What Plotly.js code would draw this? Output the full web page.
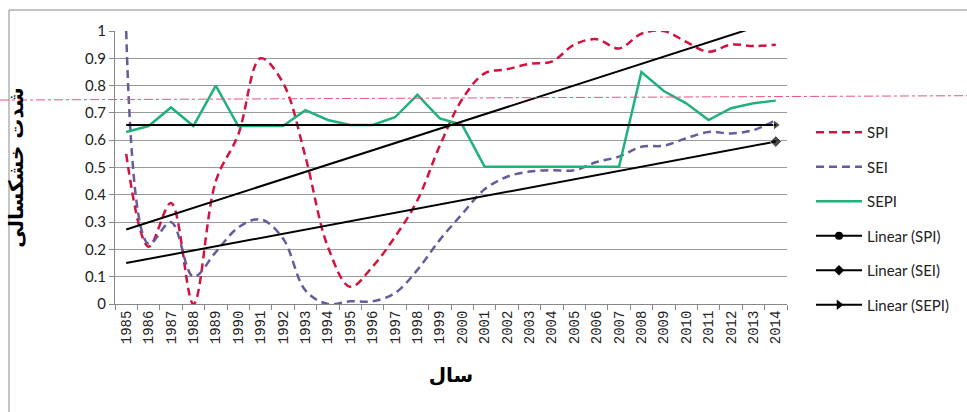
<!DOCTYPE html>
<html><head><meta charset="utf-8">
<script src="https://cdn.plot.ly/plotly-3.0.1.min.js"></script>
<style>html,body{margin:0;padding:0;background:#fff}#chart{width:967px;height:412px}</style>
</head><body><div id="chart"></div>
<script>
const years = ['1985','1986','1987','1988','1989','1990','1991','1992','1993','1994','1995','1996','1997','1998','1999','2000','2001','2002','2003','2004','2005','2006','2007','2008','2009','2010','2011','2012','2013','2014'];
const spi  = [0.55,0.21,0.37,0.0,0.45,0.62,0.90,0.81,0.54,0.21,0.063,0.137,0.246,0.38,0.58,0.75,0.845,0.86,0.88,0.888,0.95,0.97,0.936,0.99,1.0,0.96,0.924,0.95,0.945,0.95];
const sei  = [1.0,0.22,0.30,0.10,0.19,0.28,0.31,0.24,0.05,0.0,0.01,0.01,0.04,0.125,0.235,0.33,0.42,0.466,0.485,0.49,0.49,0.52,0.54,0.576,0.58,0.607,0.63,0.625,0.637,0.674];
const sepi = [0.63,0.652,0.72,0.652,0.80,0.652,0.652,0.652,0.71,0.674,0.656,0.656,0.684,0.766,0.68,0.656,0.503,0.503,0.503,0.503,0.503,0.503,0.503,0.85,0.78,0.735,0.674,0.717,0.735,0.745];
const trendYears = ['1985','2014'];
const spiTrend  = [0.273,1.038];
const seiTrend  = [0.15,0.595];
const sepiTrend = [0.656,0.656];
const refLevel  = [0.747,0.763];
const yTickVals = [0,0.1,0.2,0.3,0.4,0.5,0.6,0.7,0.8,0.9,1];
const yTickText = ['0','0.1','0.2','0.3','0.4','0.5','0.6','0.7','0.8','0.9','1'];
const seriesNames = ['SPI','SEI','SEPI','Linear (SPI)','Linear (SEI)','Linear (SEPI)'];

const RED = '#d3123f', PURPLE = '#6a5a9c', GREEN = '#1fb27a';
const FONT = 'Lato, "Open Sans", sans-serif';

const traces = [
  {x: years, y: spi, name: seriesNames[0], mode: 'lines', legendgroup: 'a',
   line: {color: RED, width: 2.5, dash: '8px,5px', shape: 'spline', smoothing: 1}},
  {x: years, y: sei, name: seriesNames[1], mode: 'lines', legendgroup: 'b',
   line: {color: PURPLE, width: 2.5, dash: '8px,5px', shape: 'spline', smoothing: 1}},
  {x: years, y: sepi, name: seriesNames[2], mode: 'lines', legendgroup: 'c',
   line: {color: GREEN, width: 2.5}},
  {x: trendYears, y: spiTrend, mode: 'lines+markers', showlegend: false, hoverinfo: 'skip',
   line: {color: '#000', width: 2}, marker: {symbol: 'circle', size: [0, 8], color: '#000'}},
  {x: trendYears, y: seiTrend, mode: 'lines+markers', showlegend: false, hoverinfo: 'skip',
   line: {color: '#000', width: 2}, marker: {symbol: 'diamond', size: [0, 9], color: '#000'}},
  {x: trendYears, y: sepiTrend, mode: 'lines+markers', showlegend: false, hoverinfo: 'skip',
   line: {color: '#000', width: 2}, marker: {symbol: 'triangle-right', size: [0, 9], color: '#000'}},
  {x: [null], y: [null], name: seriesNames[3], mode: 'lines+markers', legendgroup: 'd',
   line: {color: '#000', width: 2}, marker: {symbol: 'circle', size: 8, color: '#000'}},
  {x: [null], y: [null], name: seriesNames[4], mode: 'lines+markers', legendgroup: 'e',
   line: {color: '#000', width: 2}, marker: {symbol: 'diamond', size: 8, color: '#000'}},
  {x: [null], y: [null], name: seriesNames[5], mode: 'lines+markers', legendgroup: 'f',
   line: {color: '#000', width: 2}, marker: {symbol: 'triangle-right', size: 9, color: '#000'}}
];

const plotW = 967 - 115 - 180, plotH = 412 - 31 - 108;
const layout = {
  width: 967, height: 412,
  margin: {l: 115, r: 180, t: 31, b: 108},
  paper_bgcolor: '#fff', plot_bgcolor: '#fff',
  font: {family: FONT, color: '#222'},
  showlegend: true,
  legend: {x: (811 - 115) / plotW, y: (304 - 116) / plotH, xanchor: 'left', yanchor: 'top',
           font: {size: 15, family: FONT, color: '#222'}, itemwidth: 46, tracegroupgap: 12,
           bgcolor: 'rgba(0,0,0,0)', traceorder: 'grouped'},
  xaxis: {type: 'category', categoryorder: 'array', categoryarray: years,
          range: [-0.5, 29.5], tickson: 'boundaries', ticks: 'outside', ticklen: 5,
          tickcolor: '#888', showline: true, linecolor: '#888', linewidth: 1,
          showgrid: false, tickangle: -90, tickfont: {size: 14, family: '"Liberation Mono", "DejaVu Sans Mono", monospace', color: '#222'},
          title: {text: 'سال', font: {size: 20, family: '"DejaVu Sans", sans-serif', color: '#000', weight: 'bold'}, standoff: 24}},
  yaxis: {range: [0, 1], tickvals: yTickVals, ticktext: yTickText, ticks: 'outside', ticklen: 5,
          tickcolor: '#888', showline: true, linecolor: '#888', linewidth: 1,
          showgrid: true, gridcolor: '#9a9a9a', gridwidth: 1, zeroline: false,
          tickfont: {size: 15, family: FONT, color: '#222'},
          title: {text: 'شدت خشکسالی', font: {size: 20, family: '"DejaVu Sans", sans-serif', color: '#000', weight: 'bold'}, standoff: 56}},
  shapes: [
    {type: 'rect', xref: 'paper', yref: 'paper', layer: 'below',
     x0: (9 - 115) / plotW, x1: (1000 - 115) / plotW, y0: (304 - 450) / plotH, y1: (304 - 10) / plotH,
     line: {color: '#8a8a8a', width: 1}},
    {type: 'line', xref: 'paper', yref: 'y', layer: 'above',
     x0: -115 / plotW, x1: (967 - 115) / plotW, y0: refLevel[0], y1: refLevel[1],
     line: {color: '#f0507a', width: 1, dash: 'dashdot'}}
  ]
};
Plotly.newPlot('chart', traces, layout, {displayModeBar: false, staticPlot: true});
</script>
</body></html>
